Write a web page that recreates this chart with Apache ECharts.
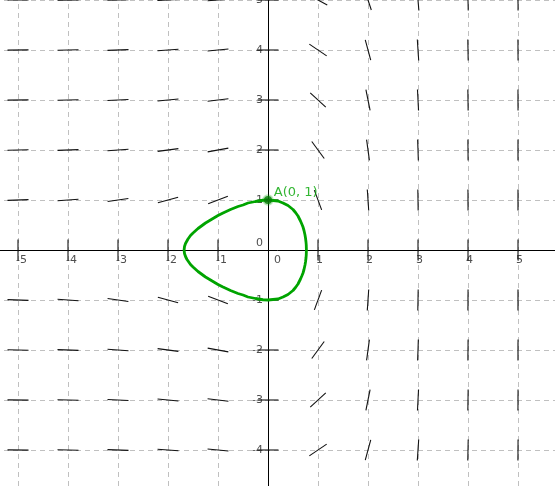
<!DOCTYPE html>
<html>
<head>
<meta charset="utf-8">
<script src="https://cdn.jsdelivr.net/npm/echarts@6/dist/echarts.min.js"></script>
<style>
  html, body { margin: 0; padding: 0; background: #fff; }
  #main { width: 555px; height: 486px; }
</style>
</head>
<body>
<div id="main"></div>
<script>
// slope field grid (dy/dx read at each grid point)
const fieldX = [-5, -4, -3, -2, -1, 0, 1, 2, 3, 4, 5];
const fieldY = [5, 4, 3, 2, 1, 0, -1, -2, -3, -4];
const V = Infinity; // vertical mark
const slopeRows = [
  [0.007, 0.015, 0.03, 0.054, 0.074, 0, -0.54, -3.0, -12, -44, -148],
  [0.008, 0.018, 0.037, 0.068, 0.092, 0, -0.68, -3.7, -15, -55, -186],
  [0.011, 0.024, 0.05, 0.09, 0.12, 0, -0.91, -4.9, -20, -73, -247],
  [0.017, 0.037, 0.075, 0.135, 0.18, 0, -1.36, -7.4, -30, -109, -371],
  [0.034, 0.073, 0.15, 0.27, 0.37, 0, -2.7, -14.8, -60, -218, -742],
  [V, V, V, V, V, null, V, V, V, V, V],
  [-0.034, -0.073, -0.15, -0.27, -0.37, 0, 2.7, 14.8, 60, 218, 742],
  [-0.017, -0.037, -0.075, -0.135, -0.18, 0, 1.36, 7.4, 30, 109, 371],
  [-0.011, -0.024, -0.05, -0.09, -0.12, 0, 0.91, 4.9, 20, 73, 247],
  [-0.008, -0.018, -0.037, -0.068, -0.092, 0, 0.68, 3.7, 15, 55, 186]
];

// tick labels
const xTicks = [-5, -4, -3, -2, -1, 1, 2, 3, 4, 5];
const yTicks = [5, 4, 3, 2, 1, -1, -2, -3, -4];

// solution curve through A, upper half (the loop is symmetric about y = 0)
const curveX = [0.768, 0.765, 0.76, 0.75, 0.74, 0.72, 0.7, 0.68, 0.65, 0.6, 0.55, 0.5, 0.4, 0.3, 0.2, 0.1, 0,
  -0.1, -0.25, -0.4, -0.5, -0.6, -0.75, -0.9, -1, -1.1, -1.25, -1.4, -1.5, -1.55, -1.6, -1.62, -1.65, -1.67, -1.678];
const curveY = [0, 0.10, 0.16, 0.24, 0.30, 0.39, 0.46, 0.51, 0.58, 0.68, 0.75, 0.81, 0.89, 0.94, 0.98, 0.99, 1,
  0.995, 0.97, 0.94, 0.90, 0.87, 0.81, 0.74, 0.69, 0.63, 0.54, 0.43, 0.34, 0.29, 0.22, 0.19, 0.13, 0.07, 0];

const pointA = [0, 1];
const pointLabel = 'A(0, 1)';

const fieldData = [];
const fieldSlopes = [];
fieldY.forEach((y, r) => {
  fieldX.forEach((x, c) => {
    fieldData.push([x, y]);
    fieldSlopes.push(slopeRows[r][c]);
  });
});

const upper = curveX.map((x, i) => [x, curveY[i]]);
const lower = upper.slice().reverse().map(p => [p[0], -p[1]]);
const loop = upper.concat(lower.slice(1));

const chart = echarts.init(document.getElementById('main'));
const green = '#00a400';
const labelFont = { fontSize: 11, color: '#222', fontFamily: 'DejaVu Sans, sans-serif' };

// tick labels are drawn as series labels so they sit next to the axes at zero
const tickData = [];
xTicks.forEach(v => tickData.push({
  value: [v, 0],
  label: { formatter: String(v), align: 'left', verticalAlign: 'top', offset: [-2, 5] }
}));
yTicks.forEach(v => tickData.push({
  value: [0, v],
  label: { formatter: String(v), align: 'right', verticalAlign: 'middle', offset: [-5, 0] }
}));
// origin: one 0 for each axis
tickData.push({ value: [0, 0], label: { formatter: '0', align: 'right', verticalAlign: 'middle', offset: [-5, -7] } });
tickData.push({ value: [0, 0], label: { formatter: '0', align: 'left', verticalAlign: 'top', offset: [6, 5] } });

chart.setOption({
  animation: false,
  backgroundColor: '#fff',
  grid: { left: -32, top: -50, width: 600, height: 550, containLabel: false, outerBoundsMode: 'none' },
  xAxis: {
    type: 'value', min: -6, max: 6, interval: 1,
    axisLine: { onZero: true, lineStyle: { color: '#000', width: 1 } },
    axisTick: { show: false },
    axisLabel: { show: false },
    splitLine: { show: true, lineStyle: { color: '#c0c0c0', type: [5, 4], width: 1 } }
  },
  yAxis: {
    type: 'value', min: -5, max: 6, interval: 1,
    axisLine: { onZero: true, lineStyle: { color: '#000', width: 1 } },
    axisTick: { show: false },
    axisLabel: { show: false },
    splitLine: { show: true, lineStyle: { color: '#c0c0c0', type: [5, 4], width: 1 } }
  },
  series: [
    {
      // slope marks
      type: 'custom',
      data: fieldData,
      silent: true,
      renderItem: function (params, api) {
        const s = fieldSlopes[params.dataIndex];
        if (s === null) return { type: 'group', children: [] };
        const c = api.coord([api.value(0), api.value(1)]);
        let dx, dy;
        if (!isFinite(s)) { dx = 0; dy = 1; }
        else { const n = Math.hypot(1, s); dx = 1 / n; dy = -s / n; }
        const h = 10.5;
        return {
          type: 'line',
          shape: { x1: c[0] - dx * h, y1: c[1] - dy * h, x2: c[0] + dx * h, y2: c[1] + dy * h },
          style: { stroke: '#111', lineWidth: 1.1 }
        };
      }
    },
    {
      type: 'scatter',
      symbolSize: 0,
      silent: true,
      data: tickData,
      label: Object.assign({ show: true, position: 'inside' }, labelFont)
    },
    {
      type: 'line',
      data: loop,
      smooth: false,
      showSymbol: false,
      lineStyle: { color: green, width: 2.8, join: 'round' },
      silent: true
    },
    {
      type: 'scatter',
      data: [pointA],
      symbolSize: 8,
      z: 5,
      itemStyle: { color: '#0a6a0a', borderColor: 'rgba(0,170,0,0.35)', borderWidth: 3.5 },
      label: {
        show: true, formatter: pointLabel, position: 'right', distance: 5, offset: [-5, -7],
        color: green, fontSize: 13, fontFamily: 'DejaVu Sans, sans-serif'
      }
    }
  ]
});
</script>
</body>
</html>
